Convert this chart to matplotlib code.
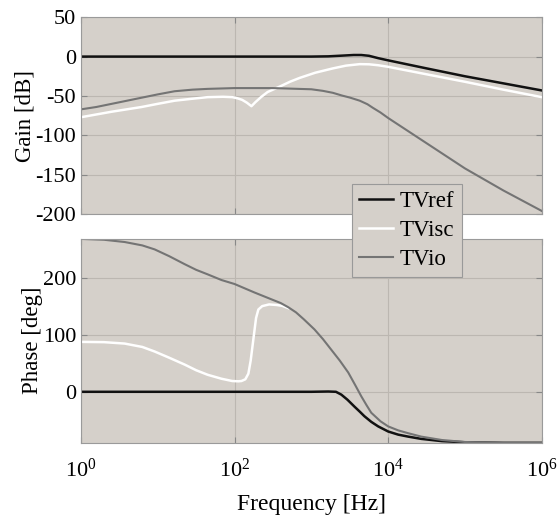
import numpy as np
import matplotlib
matplotlib.use('Agg')
import matplotlib.pyplot as plt
from matplotlib.ticker import FixedLocator, NullLocator, LogFormatterSciNotation

plt.rcParams['font.family'] = ['Liberation Serif', 'DejaVu Serif']
plt.rcParams['mathtext.fontset'] = 'custom'
plt.rcParams['mathtext.rm'] = 'Liberation Serif'
plt.rcParams['mathtext.it'] = 'Liberation Serif:italic'
plt.rcParams['axes.unicode_minus'] = False

# gain curves, log10(frequency) -> dB
ref_gain_logf = [0.0, 1.0, 2.0, 3.0, 3.22, 3.4, 3.55, 3.65, 3.75, 3.87, 4.0, 4.5, 5.0, 5.5, 6.0]
ref_gain = [0.0, 0.0, 0.0, 0.0, 0.3, 1.2, 2.0, 2.0, 1.0, -2.0, -4.8, -15.0, -25.0, -34.0, -43.0]

isc_gain_logf = [0.0, 0.4, 0.79, 1.0, 1.22, 1.45, 1.65, 1.85, 1.97, 2.04, 2.10, 2.16, 2.22,
                 2.27, 2.35, 2.43, 2.59, 2.72, 2.85, 3.05, 3.28, 3.45, 3.63, 3.75, 3.87,
                 4.0, 4.5, 5.0, 5.5, 6.0]
isc_gain = [-77.0, -70.0, -64.0, -60.0, -56.0, -53.5, -51.5, -51.0, -51.5, -53.0, -55.0,
            -58.5, -63.0, -58.0, -51.0, -45.0, -38.0, -32.0, -27.0, -20.5, -15.0, -11.5,
            -9.6, -9.8, -11.0, -13.0, -22.5, -32.0, -42.0, -51.5]

io_gain_logf = [0.0, 0.2, 0.4, 0.6, 0.8, 1.0, 1.22, 1.45, 1.65, 2.0, 2.5, 3.0, 3.15, 3.28,
                3.4, 3.5, 3.63, 3.73, 3.8, 3.9, 4.0, 4.25, 4.5, 5.0, 5.5, 6.0]
io_gain = [-67.0, -64.0, -60.0, -56.0, -52.0, -48.0, -44.0, -42.0, -41.0, -40.0, -40.0,
           -41.5, -43.5, -46.0, -49.5, -52.0, -56.0, -60.5, -65.0, -71.0, -78.0, -94.0,
           -110.0, -142.0, -170.0, -196.0]

# phase curves, log10(frequency) -> deg
ref_phase_logf = [0.0, 1.0, 2.0, 3.0, 3.22, 3.32, 3.39, 3.47, 3.56, 3.63, 3.69, 3.78,
                  3.87, 4.0, 4.13, 4.26, 4.43, 4.7, 5.0, 5.5, 6.0]
ref_phase = [0.0, 0.0, 0.0, 0.0, 0.5, 0.0, -5.0, -14.0, -26.0, -35.0, -43.0, -53.0,
             -61.0, -70.0, -75.5, -79.0, -83.0, -87.0, -89.0, -90.0, -90.0]

isc_phase_logf = [0.0, 0.3, 0.57, 0.8, 0.96, 1.15, 1.35, 1.5, 1.65, 1.83, 1.97, 2.05,
                  2.09, 2.14, 2.18, 2.21, 2.25, 2.28, 2.31, 2.36, 2.45, 2.55, 2.62, 2.7]
isc_phase = [88.0, 87.5, 85.0, 79.0, 71.0, 60.0, 48.0, 38.0, 30.0, 23.0, 19.0, 18.5,
             19.0, 22.0, 32.0, 55.0, 98.0, 130.0, 145.0, 151.0, 154.0, 153.0, 151.5, 147.5]

io_phase_logf = [0.0, 0.3, 0.57, 0.8, 0.96, 1.15, 1.35, 1.5, 1.65, 1.83, 2.0, 2.26, 2.48,
                 2.6, 2.7, 2.8, 2.9, 3.04, 3.15, 3.26, 3.37, 3.48, 3.57, 3.65, 3.72, 3.78,
                 3.9, 4.0, 4.13, 4.26, 4.43, 4.7, 5.0, 5.5, 6.0]
io_phase = [269.5, 268.0, 264.0, 258.0, 251.0, 239.0, 225.0, 215.0, 207.0, 197.0, 190.0,
            175.0, 163.0, 156.5, 149.0, 140.0, 128.0, 110.0, 93.0, 74.0, 55.0, 34.0, 12.0,
            -8.0, -24.0, -37.0, -52.0, -61.0, -68.0, -73.0, -79.0, -85.0, -88.5, -90.0, -90.0]

labels = ['TVref', 'TVisc', 'TVio']
colors = ['#111111', '#ffffff', '#747474']
widths = [1.8, 1.8, 1.5]

bg = '#d5d0ca'
grid_c = '#bcb7b1'
spine_c = '#9a9a9a'

fig = plt.figure(figsize=(5.58, 5.21), dpi=100)
ax1 = fig.add_axes([0.145, 0.589, 0.826, 0.378])
ax2 = fig.add_axes([0.145, 0.150, 0.826, 0.392])

gain_sets = [(ref_gain_logf, ref_gain), (isc_gain_logf, isc_gain), (io_gain_logf, io_gain)]
phase_sets = [(ref_phase_logf, ref_phase), (isc_phase_logf, isc_phase), (io_phase_logf, io_phase)]

lines = []
for (lf, g), c, w, lab in zip(gain_sets, colors, widths, labels):
    ln, = ax1.plot(10 ** np.array(lf), g, color=c, lw=w, label=lab)
    lines.append(ln)
for (lf, p), c, w in zip(phase_sets, colors, widths):
    ax2.plot(10 ** np.array(lf), p, color=c, lw=w)

for ax in (ax1, ax2):
    ax.set_xscale('log')
    ax.set_xlim(1, 1e6)
    ax.set_facecolor(bg)
    ax.xaxis.set_major_locator(FixedLocator([1, 1e2, 1e4, 1e6]))
    ax.xaxis.set_minor_locator(NullLocator())
    ax.grid(True, color=grid_c, lw=0.8)
    ax.set_axisbelow(True)
    ax.tick_params(direction='in', top=True, right=True, labelsize=16,
                   color='#888888', length=4)
    for s in ax.spines.values():
        s.set_color(spine_c)

ax1.set_ylim(-200, 50)
ax1.set_yticks([50, 0, -50, -100, -150, -200])
ax1.set_xticklabels([])
ax1.set_ylabel('Gain [dB]', fontsize=16.5, labelpad=0)

ax2.set_ylim(-90, 270)
ax2.set_yticks([0, 100, 200])
ax2.xaxis.set_major_formatter(LogFormatterSciNotation())
ax2.tick_params(axis='x', pad=11)
ax2.set_xlabel('Frequency [Hz]', fontsize=17, labelpad=9)
ax2.set_ylabel('Phase [deg]', fontsize=16.5, labelpad=0)

leg = fig.legend(handles=lines, loc='upper left', bbox_to_anchor=(352 / 558, 1 - 184 / 521),
                 borderaxespad=0, fontsize=16.5, frameon=True, fancybox=False, framealpha=1,
                 facecolor=bg, edgecolor='#999999', handlelength=1.5,
                 labelspacing=0.35, borderpad=0.3, handletextpad=0.3)
leg.get_frame().set_linewidth(0.8)

fig.savefig('out.png', dpi=100)
